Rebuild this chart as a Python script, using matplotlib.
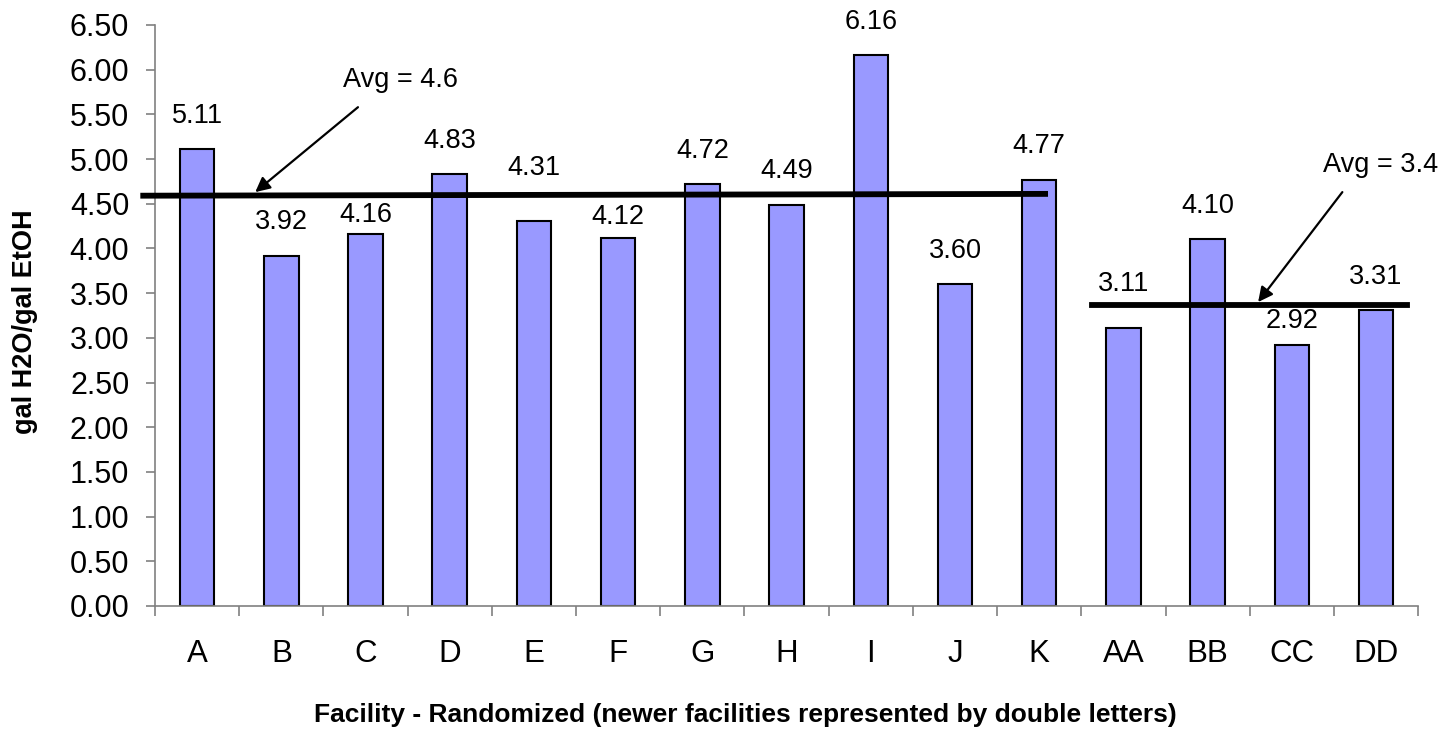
import matplotlib.pyplot as plt
import numpy as np

plt.rcParams['font.family'] = ['Liberation Sans', 'DejaVu Sans']

# data
facilities = ["A", "B", "C", "D", "E", "F", "G", "H", "I", "J", "K", "AA", "BB", "CC", "DD"]
water_use = [5.11, 3.92, 4.16, 4.83, 4.31, 4.12, 4.72, 4.49, 6.16, 3.60, 4.77, 3.11, 4.10, 2.92, 3.31]
avg_old = 4.6
avg_new = 3.4
yticks = np.arange(0, 6.51, 0.5)

# label offsets (points above bar top), some labels were moved by hand in the original
label_off = [24] * len(facilities)
label_off[2] = 14    # C
label_off[4] = 38    # E
label_off[5] = 15    # F
label_off[11] = 32   # AA
label_off[13] = 17   # CC

fig = plt.figure(figsize=(14.53, 7.34), dpi=100)
ax = fig.add_axes([0.1067, 0.1744, 0.8693, 0.7916])

x = np.arange(len(facilities))
ax.bar(x, water_use, width=0.41, color="#9999FF", edgecolor="black", linewidth=1.5, zorder=2)

for xi, v, off in zip(x, water_use, label_off):
    ax.annotate(f"{v:.2f}", (xi, v), xytext=(0, off), textcoords="offset points",
                ha="center", va="center", fontsize=19.5)

# average lines
ax.plot([-0.64, 10.07], [4.59, 4.61], color="black", lw=4.2, zorder=3, clip_on=False)
ax.plot([10.63, 14.37], [3.37, 3.37], color="black", lw=4.2, zorder=3, clip_on=False)

arrow = dict(arrowstyle="-|>", color="black", lw=1.6, mutation_scale=22, shrinkA=0, shrinkB=0)
ax.text(2.41, 5.88, f"Avg = {avg_old}", ha="center", va="center", fontsize=19.5)
ax.annotate("", xy=(0.69, 4.63), xytext=(1.91, 5.58), arrowprops=arrow)
ax.text(14.05, 4.93, f"Avg = {avg_new}", ha="center", va="center", fontsize=19.5)
ax.annotate("", xy=(12.60, 3.40), xytext=(13.60, 4.63), arrowprops=arrow)

ax.set_xlim(-0.5, len(facilities) - 0.5)
ax.set_ylim(0, 6.5)
ax.set_yticks(yticks)
ax.set_yticklabels([f"{t:.2f}" for t in yticks], fontsize=22)
ax.tick_params(axis="y", length=6.5, width=1.2, color="#808080", pad=12)

ax.set_xticks(np.arange(-0.5, len(facilities), 1.0))
ax.set_xticklabels([])
ax.set_xticks(x, minor=True)
ax.set_xticklabels(facilities, minor=True, fontsize=22.5)
ax.tick_params(axis="x", which="major", length=7, width=1.2, color="#808080")
ax.tick_params(axis="x", which="minor", length=0, pad=24)

for s in ["top", "right"]:
    ax.spines[s].set_visible(False)
for s in ["left", "bottom"]:
    ax.spines[s].set_color("#808080")
    ax.spines[s].set_linewidth(1.2)

ax.set_ylabel("gal H2O/gal EtOH", fontsize=19.5, fontweight="bold", labelpad=23)
ax.yaxis.label.set_y(0.49)
ax.set_xlabel("Facility - Randomized (newer facilities represented by double letters)",
              fontsize=19, fontweight="bold", labelpad=24)
ax.xaxis.label.set_x(0.467)

fig.savefig("out.png", dpi=100)
